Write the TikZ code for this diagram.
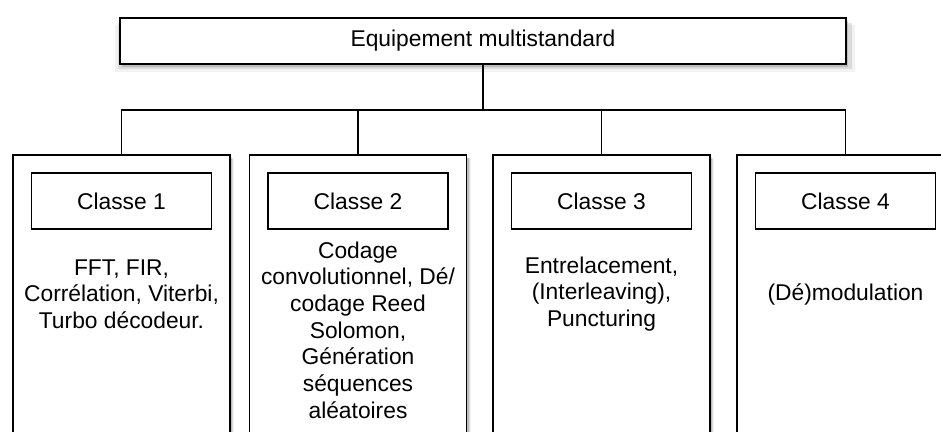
\documentclass[tikz,border=0pt]{standalone}
\usepackage{fontspec}
\setmainfont{Liberation Sans}
\usetikzlibrary{shadows}

\tikzset{
  txt/.style={font=\fontsize{22.8}{26.7}\selectfont,align=center,inner sep=0pt},
  ombre/.style={drop shadow={shadow xshift=2pt,shadow yshift=-7pt,opacity=.1,shadow scale=1.02},
                drop shadow={shadow xshift=2pt,shadow yshift=-5pt,opacity=.2,shadow scale=1.01},
                drop shadow={shadow xshift=2pt,shadow yshift=-3pt,opacity=.35}},
  colonne/.style={draw,fill=white,ombre,minimum width=217pt,minimum height=300pt,anchor=north,inner sep=0pt},
  classe/.style={draw,fill=white,txt,minimum width=180pt,minimum height=56pt},
}

\begin{document}
\begin{tikzpicture}[x=1pt,y=-1pt,line width=1.6pt]
                \useasboundingbox (0,0) rectangle (941,431);
                \clip (0,0) rectangle (941,431);

                \node[draw,fill=white,ombre,txt,minimum width=726pt,minimum height=46pt] (equip) at (483,41) {Equipement multistandard};

                % les quatre classes
                \node[colonne] (col1) at (121.5,154) {};
                \node[colonne] (col2) at (358,154) {};
                \node[colonne] (col3) at (601.5,154) {};
                \node[colonne] (col4) at (845.5,154) {};

                \node[classe] (cl1) at (121.5,201) {Classe 1};
                \node[classe] (cl2) at (358,201) {Classe 2};
                \node[classe] (cl3) at (601.5,201) {Classe 3};
                \node[classe] (cl4) at (845.5,201) {Classe 4};

                \node[txt] (fct1) at (121.5,294) {FFT, FIR,\\Corrélation, Viterbi,\\Turbo décodeur.};
                \node[txt] (fct2) at (358,330) {Codage\\convolutionnel, Dé/\\codage Reed\\Solomon,\\Génération\\séquences\\aléatoires};
                \node[txt] (fct3) at (601.5,294) {Entrelacement,\\(Interleaving),\\Puncturing};
                \node[txt] (fct4) at (845.5,294) {(Dé)modulation};

                \coordinate (bus) at (483,110);
                \draw (equip) -- (bus);
                \draw (col1.north) |- (bus) -| (col4.north);
                \draw (col2.north) -- (col2.north |- bus);
                \draw (col3.north) -- (col3.north |- bus);
            \end{tikzpicture}
\end{document}
